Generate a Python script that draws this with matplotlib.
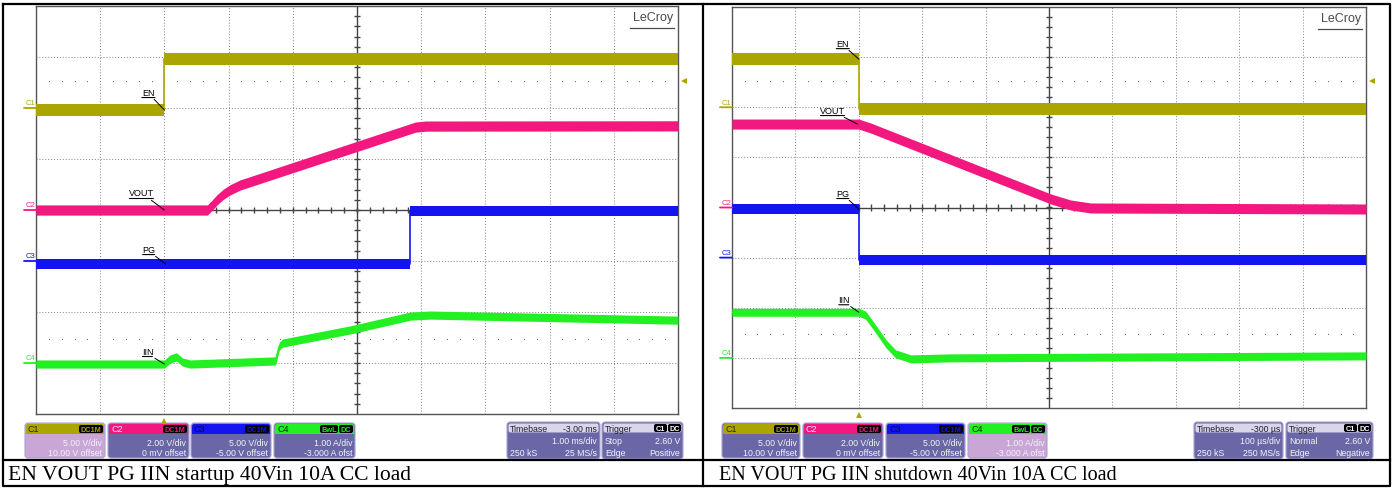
import numpy as np
import matplotlib
matplotlib.use('Agg')
import matplotlib.pyplot as plt
from matplotlib.patches import FancyBboxPatch, Rectangle
from matplotlib.transforms import offset_copy

# ---------------- data ----------------
# channel setup (V/div or A/div, offset)
ch_names = ['C1', 'C2', 'C3', 'C4']
ch_scale = [5.0, 2.0, 5.0, 1.0]
ch_offset = [10.0, 0.0, -5.0, -3.0]
ch_color = ['#ABA500', '#F2187F', '#1414F0', '#22F022']
trig_level = 2.60

# startup capture, time in ms
su_en_t = [-2, 0, 0, 8]
su_en_v = [-0.2, -0.2, 4.8, 4.8]
su_vout_t = [-2, 0.67, 0.74, 0.82, 0.92, 1.03, 1.18, 3.91, 4.07, 8]
su_vout_v = [0.0, 0.0, 0.18, 0.40, 0.62, 0.80, 0.98, 3.25, 3.29, 3.3]
su_pg_t = [-2, 3.82, 3.82, 8]
su_pg_v = [-0.3, -0.3, 4.9, 4.9]
su_iin_t = [-2, 0, 0.09, 0.19, 0.28, 0.40, 1.73, 1.79, 1.84, 2.90, 3.83, 4.14, 8]
su_iin_v = [-0.02, -0.02, 0.08, 0.12, 0.02, -0.02, 0.04, 0.33, 0.39, 0.65, 0.92, 0.94, 0.84]

# shutdown capture, time in us
sd_en_t = [-200, 0, 0, 800]
sd_en_v = [4.8, 4.8, -0.2, -0.2]
sd_vout_t = [-200, 0, 19, 303, 334, 366, 800]
sd_vout_v = [3.33, 3.33, 3.17, 0.34, 0.10, -0.02, -0.06]
sd_pg_t = [-200, 0, 0, 800]
sd_pg_v = [4.85, 4.85, -0.25, -0.25]
sd_iin_t = [-200, 0, 11, 27, 43, 58, 82, 145, 800]
sd_iin_v = [0.91, 0.91, 0.85, 0.57, 0.28, 0.08, -0.02, 0.0, 0.04]

captions = ['EN VOUT PG IIN startup 40Vin 10A CC load',
            'EN VOUT PG IIN shutdown 40Vin 10A CC load']

W, H = 1393, 489
fig = plt.figure(figsize=(W / 100, H / 100), dpi=100)
plt.rcParams['font.family'] = ['Liberation Sans', 'DejaVu Sans']

# overlay axes in pixel units for frames, boxes and captions
ov = fig.add_axes([0, 0, 1, 1])
ov.set_xlim(0, W)
ov.set_ylim(H, 0)
ov.axis('off')


def to_div(v, ch):
    return (np.array(v) + ch_offset[ch]) / ch_scale[ch]


def scope(px, xlim, tdiv, traces, tags, t_trig):
    x0, y0, x1, y1 = px
    ax = fig.add_axes([x0 / W, 1 - y1 / H, (x1 - x0) / W, (y1 - y0) / H])
    ax.set_xlim(xlim)
    ax.set_ylim(-4, 4)
    ax.set_xticks([])
    ax.set_yticks([])
    for s in ax.spines.values():
        s.set_color('#555555')
        s.set_linewidth(1)
    xc = xlim[0] + 5 * tdiv
    # grid
    for i in range(1, 10):
        xv = xlim[0] + i * tdiv
        if i == 5:
            ax.axvline(xv, color='#444444', lw=1, zorder=1)
        else:
            ax.axvline(xv, color='#808080', lw=0.7, ls=(0, (1, 2)), zorder=1)
    for j in range(-3, 4):
        if j == 0:
            ax.axhline(0, color='#444444', lw=1, zorder=1)
        else:
            ax.axhline(j, color='#808080', lw=0.7, ls=(0, (1, 2)), zorder=1)
    minor_x = xlim[0] + tdiv * np.arange(0.2, 10, 0.2)
    minor_y = np.arange(-3.8, 4, 0.2)
    ax.vlines(minor_x, -0.06, 0.06, color='#444444', lw=1, zorder=1)
    ax.hlines(minor_y, xc - 0.05 * tdiv, xc + 0.05 * tdiv, color='#444444', lw=1, zorder=1)
    dots_x = [x for k, x in enumerate(minor_x) if (k + 1) % 5 != 0]
    trig_div = (trig_level + ch_offset[0]) / ch_scale[0]
    for yy in (trig_div, -trig_div):
        ax.plot(dots_x, [yy] * len(dots_x), ls='none', marker='s', ms=0.8,
                color='#707070', markeredgewidth=0, zorder=1)

    # traces
    band = [0.12, 0.1, 0.1, 0.08]
    for t, v, ch in traces:
        d = to_div(v, ch)
        ax.fill_between(t, d - band[ch], d + band[ch], color=ch_color[ch], lw=0, zorder=3)
        ax.plot(t, d, color=ch_color[ch], lw=1.2, zorder=3)

    # signal tags with underline and leader
    for name, t, v, ch, dx, dy, w in tags:
        yd = to_div(v, ch)
        ax.annotate(name, xy=(t, yd), xytext=(dx, dy), textcoords='offset pixels',
                    ha='center', va='center', fontsize=6.5, color='black', zorder=5,
                    arrowprops=dict(arrowstyle='-', lw=0.7, color='black',
                                    shrinkA=0, shrinkB=0, relpos=(0.75, 0)))
        ta = offset_copy(ax.transData, fig=fig, x=dx - w / 2, y=dy - 5.5, units='dots')
        tb = offset_copy(ax.transData, fig=fig, x=dx + w / 2, y=dy - 5.5, units='dots')
        ax.annotate('', xy=(t, yd), xycoords=ta, xytext=(t, yd), textcoords=tb,
                    arrowprops=dict(arrowstyle='-', lw=0.8, color='black',
                                    shrinkA=0, shrinkB=0))

    # channel offset markers
    for ch in range(4):
        yd = ch_offset[ch] / ch_scale[ch]
        ax.annotate('', xy=(0, yd), xycoords=('axes fraction', 'data'),
                    xytext=(-12, 0), textcoords='offset pixels',
                    arrowprops=dict(arrowstyle='-', lw=1.3, color=ch_color[ch],
                                    shrinkA=0, shrinkB=0), annotation_clip=False)
        ax.annotate(ch_names[ch], xy=(0, yd), xycoords=('axes fraction', 'data'),
                    xytext=(-6, 5), textcoords='offset pixels', ha='center', va='center',
                    fontsize=5.5, color=ch_color[ch], annotation_clip=False)

    # trigger markers
    ax.plot([1.0], [trig_div], marker='<', ms=5, color=ch_color[0], clip_on=False,
            transform=offset_copy(ax.get_yaxis_transform(), fig=fig, x=6, y=0, units='dots'),
            markeredgewidth=0)
    ax.plot([t_trig], [-0.018], marker='^', ms=5, color=ch_color[0], clip_on=False,
            transform=ax.get_xaxis_transform(), markeredgewidth=0)

    # logo
    ax.text(0.993, 0.987, 'LeCroy', transform=ax.transAxes, ha='right', va='top',
            fontsize=9, color='#4A4A4A', zorder=5)
    ax.plot([0.925, 0.993], [0.945, 0.945], transform=ax.transAxes, color='#4A4A4A',
            lw=0.9, zorder=5)
    return ax


def chan_box(x0, x1, ch, name_col, badges, l1, l2, selected):
    y0, y1 = 424, 459
    col = ch_color[ch]
    body = '#C9A6D6' if selected else '#6B67A6'
    ov.add_patch(FancyBboxPatch((x0, y0), x1 - x0, y1 - y0,
                                boxstyle='round,pad=0,rounding_size=3',
                                fc=body, ec='#A9A3D3', lw=0.8))
    ov.add_patch(FancyBboxPatch((x0 + 1, y0 + 1), x1 - x0 - 2, 10,
                                boxstyle='round,pad=0,rounding_size=2.5', fc=col, ec='none'))
    ov.add_patch(Rectangle((x0 + 1, y0 + 6), x1 - x0 - 2, 5, fc=col, ec='none'))
    ov.text(x0 + 3, y0 + 6, ch_names[ch], color=name_col, fontsize=6.5, va='center')
    bx = x1 - 2
    for b, bw in reversed(badges):
        ov.add_patch(FancyBboxPatch((bx - bw, y0 + 2), bw, 8,
                                    boxstyle='round,pad=0,rounding_size=2', fc='black', ec='none'))
        ov.text(bx - bw / 2, y0 + 6.3, b, color=col, fontsize=5.3, ha='center',
                va='center', fontweight='bold')
        bx -= bw + 1
    ov.text(x1 - 3, y0 + 19, l1, color='#F2F2FA', fontsize=6.3, ha='right', va='center')
    ov.text(x1 - 3, y0 + 29.5, l2, color='#F2F2FA', fontsize=6.3, ha='right', va='center')


def info_box(x0, x1, title, value, rows, badge):
    y0, y1 = 423, 460
    ov.add_patch(FancyBboxPatch((x0, y0), x1 - x0, y1 - y0,
                                boxstyle='round,pad=0,rounding_size=3',
                                fc='#6B67A6', ec='#A9A3D3', lw=0.8))
    ov.add_patch(FancyBboxPatch((x0 + 1.5, y0 + 1.5), x1 - x0 - 3, 9,
                                boxstyle='round,pad=0,rounding_size=2', fc='#D9D6EA', ec='none'))
    ov.text(x0 + 3, y0 + 6, title, color='#202030', fontsize=6.3, va='center')
    if badge:
        bx = x1 - 2
        for b, bw in [('DC', 13), ('C1', 13)]:
            ov.add_patch(FancyBboxPatch((bx - bw, y0 + 2), bw, 8,
                                        boxstyle='round,pad=0,rounding_size=2', fc='black', ec='none'))
            ov.text(bx - bw / 2, y0 + 6.3, b, color='white', fontsize=5.3, ha='center',
                    va='center', fontweight='bold')
            bx -= bw + 1
    else:
        ov.text(x1 - 3, y0 + 6, value, color='#202030', fontsize=6.3, ha='right', va='center')
    for k, (left, right) in enumerate(rows):
        yy = y0 + 18 + 12 * k
        ov.text(x0 + 3, yy, left, color='#F2F2FA', fontsize=6.3, va='center')
        ov.text(x1 - 3, yy, right, color='#F2F2FA', fontsize=6.3, ha='right', va='center')


# ---------------- startup panel ----------------
scope((36, 7, 678, 415), (-2, 8), 1.0,
      [(su_en_t, su_en_v, 0), (su_vout_t, su_vout_v, 1),
       (su_pg_t, su_pg_v, 2), (su_iin_t, su_iin_v, 3)],
      [('EN', 0, -0.2, 0, -16, 18, 13), ('VOUT', 0, 0.0, 1, -23, 17, 24),
       ('PG', 0.02, -0.3, 2, -17, 15, 12), ('IIN', 0, -0.02, 3, -17, 13, 10)],
      0)

chan_box(25, 105, 0, '#2A2A00', [('DC1M', 24)], '5.00 V/div', '10.00 V offset', True)
chan_box(108, 189, 1, '#FFE0F0', [('DC1M', 24)], '2.00 V/div', '0 mV offset', False)
chan_box(191, 271, 2, '#000070', [('DC1M', 24)], '5.00 V/div', '-5.00 V offset', False)
chan_box(274, 355, 3, '#003000', [('BwL', 18), ('DC', 14)], '1.00 A/div', '-3.000 A ofst', False)
info_box(507, 600, 'Timebase', '-3.00 ms', [('', '1.00 ms/div'), ('250 kS', '25 MS/s')], False)
info_box(602, 683, 'Trigger', '', [('Stop', '2.60 V'), ('Edge', 'Positive')], True)

# ---------------- shutdown panel ----------------
scope((732, 8, 1366, 409), (-200, 800), 100.0,
      [(sd_en_t, sd_en_v, 0), (sd_vout_t, sd_vout_v, 1),
       (sd_pg_t, sd_pg_v, 2), (sd_iin_t, sd_iin_v, 3)],
      [('EN', 0, 4.8, 0, -16, 16, 13), ('VOUT', -2, 3.33, 1, -25, 14, 24),
       ('PG', 0, 4.85, 2, -16, 16, 12), ('IIN', 0, 0.91, 3, -15, 13, 10)],
      0)

chan_box(722, 800, 0, '#2A2A00', [('DC1M', 24)], '5.00 V/div', '10.00 V offset', False)
chan_box(803, 883, 1, '#FFE0F0', [('DC1M', 24)], '2.00 V/div', '0 mV offset', False)
chan_box(886, 965, 2, '#000070', [('DC1M', 24)], '5.00 V/div', '-5.00 V offset', False)
chan_box(968, 1047, 3, '#003000', [('BwL', 18), ('DC', 14)], '1.00 A/div', '-3.000 A ofst', True)
info_box(1194, 1283, 'Timebase', '-300 µs', [('', '100 µs/div'), ('250 kS', '250 MS/s')], False)
info_box(1286, 1373, 'Trigger', '', [('Normal', '2.60 V'), ('Edge', 'Negative')], True)

# ---------------- table frame and captions ----------------
lw_t = 1.6
ov.plot([3, 1390, 1390, 3, 3], [5, 5, 487, 487, 5], color='black', lw=lw_t)
ov.plot([703, 703], [5, 487], color='black', lw=lw_t)
ov.plot([3, 1390], [461, 461], color='black', lw=lw_t)
ov.text(8, 480, captions[0], fontsize=15.6, family='Liberation Serif', va='baseline')
ov.text(719, 480, captions[1], fontsize=14.5, family='Liberation Serif', va='baseline')

fig.savefig('out.png', dpi=100)
